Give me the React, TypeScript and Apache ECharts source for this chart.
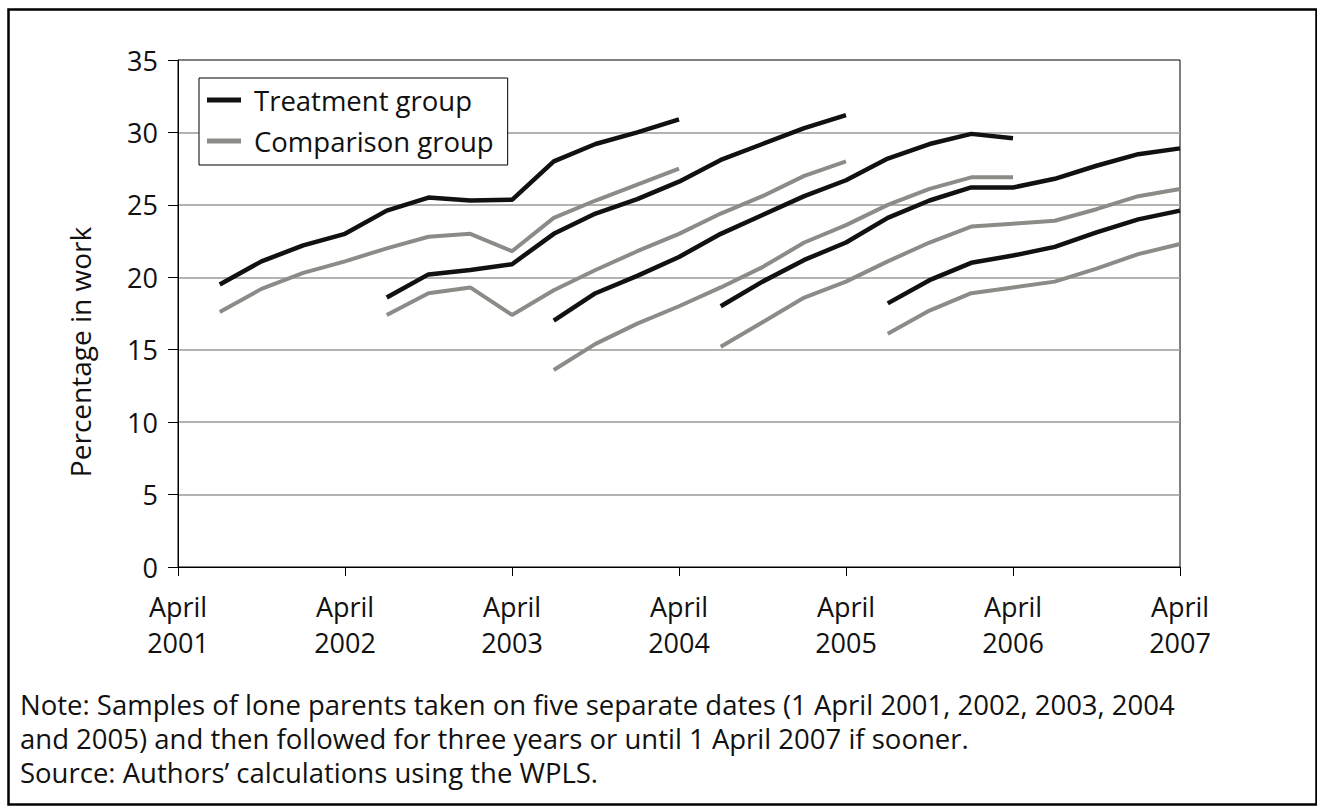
import React, { useEffect, useRef } from "react";
import * as echarts from "echarts";

const quarters = [
  "Apr 2001", "Jul 2001", "Oct 2001", "Jan 2002",
  "Apr 2002", "Jul 2002", "Oct 2002", "Jan 2003",
  "Apr 2003", "Jul 2003", "Oct 2003", "Jan 2004",
  "Apr 2004", "Jul 2004", "Oct 2004", "Jan 2005",
  "Apr 2005", "Jul 2005", "Oct 2005", "Jan 2006",
  "Apr 2006", "Jul 2006", "Oct 2006", "Jan 2007",
  "Apr 2007",
];

const yTicks = [0, 5, 10, 15, 20, 25, 30, 35];

// cohort start quarter (first observation after sampling date)
const cohortStarts = ["Jul 2001", "Jul 2002", "Jul 2003", "Jul 2004", "Jul 2005"];

const treatment2001 = [19.5, 21.1, 22.2, 23.0, 24.6, 25.5, 25.3, 25.35, 28.0, 29.2, 30.0, 30.9];
const comparison2001 = [17.6, 19.2, 20.3, 21.1, 22.0, 22.8, 23.0, 21.8, 24.1, 25.3, 26.4, 27.5];
const treatment2002 = [18.6, 20.2, 20.5, 20.9, 23.0, 24.4, 25.4, 26.6, 28.1, 29.2, 30.3, 31.2];
const comparison2002 = [17.4, 18.9, 19.3, 17.4, 19.1, 20.5, 21.8, 23.0, 24.4, 25.6, 27.0, 28.0];
const treatment2003 = [17.0, 18.9, 20.1, 21.4, 23.0, 24.3, 25.6, 26.7, 28.2, 29.2, 29.9, 29.6];
const comparison2003 = [13.6, 15.4, 16.8, 18.0, 19.3, 20.7, 22.4, 23.6, 25.0, 26.1, 26.9, 26.9];
const treatment2004 = [18.0, 19.7, 21.2, 22.4, 24.1, 25.3, 26.2, 26.2, 26.8, 27.7, 28.5, 28.9];
const comparison2004 = [15.2, 16.9, 18.6, 19.7, 21.1, 22.4, 23.5, 23.7, 23.9, 24.7, 25.6, 26.1];
const treatment2005 = [18.2, 19.8, 21.0, 21.5, 22.1, 23.1, 24.0, 24.6];
const comparison2005 = [16.1, 17.7, 18.9, 19.3, 19.7, 20.6, 21.6, 22.3];

const treatmentCohorts = [treatment2001, treatment2002, treatment2003, treatment2004, treatment2005];
const comparisonCohorts = [comparison2001, comparison2002, comparison2003, comparison2004, comparison2005];

const TREAT_NAME = "Treatment group";
const COMP_NAME = "Comparison group";
const noteLines = [
  "Note: Samples of lone parents taken on five separate dates (1 April 2001, 2002, 2003, 2004",
  "and 2005) and then followed for three years or until 1 April 2007 if sooner.",
  "Source: Authors\u2019 calculations using the WPLS.",
];
const yAxisTitle = "Percentage in work";

const FONT = '"Open Sans", "Noto Sans", sans-serif';
const BLACK = "#111111";
const GREY = "#8b8b87";

function place(values: number[], start: string) {
  const idx = quarters.indexOf(start);
  const out: (number | null)[] = quarters.map(() => null);
  values.forEach((v, i) => {
    out[idx + i] = v;
  });
  return out;
}

export default function App() {
  const ref = useRef<HTMLDivElement>(null);
  useEffect(() => {
    if (!ref.current) return;
    const chart = echarts.init(ref.current, undefined, { renderer: "svg" });
    const series: any[] = [];
    comparisonCohorts.forEach((c, i) => {
      series.push({
        name: COMP_NAME,
        type: "line",
        data: place(c, cohortStarts[i]),
        symbol: "none",
        connectNulls: false,
        lineStyle: { color: GREY, width: 4 },
        itemStyle: { color: GREY },
        z: 2,
      });
    });
    treatmentCohorts.forEach((c, i) => {
      series.push({
        name: TREAT_NAME,
        type: "line",
        data: place(c, cohortStarts[i]),
        symbol: "none",
        connectNulls: false,
        lineStyle: { color: BLACK, width: 4.5 },
        itemStyle: { color: BLACK },
        z: 3,
      });
    });
    const noteGraphics = noteLines.map((line, i) => ({
      type: "text",
      left: 20,
      top: 690 + i * 34,
      style: {
        text: line,
        font: `27.5px ${FONT}`,
        fill: BLACK,
      },
    }));
    chart.setOption({
      animation: false,
      backgroundColor: "#ffffff",
      textStyle: { fontFamily: FONT },
      grid: {
        left: 178,
        right: 137,
        top: 60,
        bottom: 242,
        show: true,
        borderColor: "#000",
        borderWidth: 1,
        backgroundColor: "transparent",
      },
      legend: {
        data: [TREAT_NAME, COMP_NAME],
        orient: "vertical",
        left: 199,
        top: 78,
        icon: "rect",
        itemWidth: 34,
        itemHeight: 5,
        itemGap: 11,
        padding: [7, 14, 9, 8],
        borderColor: "#000",
        borderWidth: 1,
        backgroundColor: "#ffffff",
        selectedMode: false,
        textStyle: {
          fontFamily: FONT,
          fontSize: 27.5,
          color: BLACK,
          lineHeight: 30,
          padding: [0, 0, 0, 8],
        },
        z: 10,
      },
      xAxis: {
        type: "category",
        data: quarters,
        boundaryGap: false,
        axisLine: { show: true, lineStyle: { color: "#000", width: 1 } },
        axisTick: {
          show: true,
          interval: 3,
          length: 9,
          lineStyle: { color: "#000", width: 1 },
        },
        axisLabel: {
          interval: 3,
          margin: 21,
          fontFamily: FONT,
          fontSize: 27,
          lineHeight: 36,
          color: BLACK,
          formatter: (v: string) =>
            v.startsWith("Apr") ? "April\n" + v.slice(4) : "",
        },
        splitLine: { show: false },
      },
      yAxis: {
        type: "value",
        min: yTicks[0],
        max: yTicks[yTicks.length - 1],
        interval: 5,
        axisLine: { show: true, lineStyle: { color: "#000", width: 1 } },
        axisTick: { show: true, length: 10, lineStyle: { color: "#000", width: 1 } },
        axisLabel: {
          margin: 20,
          fontFamily: FONT,
          fontSize: 27,
          color: BLACK,
        },
        splitLine: {
          show: true,
          showMinLine: false,
          showMaxLine: false,
          lineStyle: { color: "#9a9a96", width: 1.5 },
        },
      },
      series,
      graphic: [
        {
          type: "rect",
          left: 6,
          top: 7,
          shape: { width: 1308, height: 795 },
          style: { fill: "none", stroke: "#000", lineWidth: 2.5 },
          silent: true,
        },
        {
          type: "text",
          x: 80,
          y: 352,
          rotation: Math.PI / 2,
          style: {
            text: yAxisTitle,
            font: `28px ${FONT}`,
            fill: BLACK,
            textAlign: "center",
            textVerticalAlign: "middle",
            align: "center",
            verticalAlign: "middle",
          },
        },
        ...noteGraphics,
      ],
    });
    return () => chart.dispose();
  }, []);
  return (
    <div
      ref={ref}
      style={{ position: "absolute", left: 0, top: 0, width: 1317, height: 809 }}
    />
  );
}
